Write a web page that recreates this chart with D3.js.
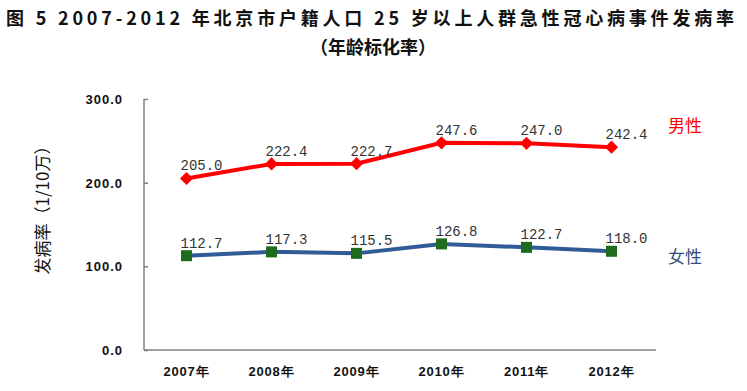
<!DOCTYPE html>
<html>
<head>
<meta charset="utf-8">
<script src="https://cdn.jsdelivr.net/npm/d3@7"></script>
<style>
  body { margin: 0; background: #fff; }
  svg { display: block; }
</style>
</head>
<body>
<div></div>
<script>
const years = ["2007年", "2008年", "2009年", "2010年", "2011年", "2012年"];
const male = [205.0, 222.4, 222.7, 247.6, 247.0, 242.4];
const female = [112.7, 117.3, 115.5, 126.8, 122.7, 118.0];
const yTicks = [0, 100, 200, 300];
const titleLines = ["图 5 2007-2012 年北京市户籍人口 25 岁以上人群急性冠心病事件发病率", "（年龄标化率）"];
const yTitle = "发病率（1/10万）";

const svg = d3.select("div").append("svg")
  .attr("width", 747)
  .attr("height", 391);

const x = d3.scalePoint().domain(years).range([144, 654]).padding(0.5);
const y = d3.scaleLinear().domain([0, 300]).range([350, 99]);

// title
svg.append("text")
  .attr("x", 6).attr("y", 25)
  .attr("textLength", 728).attr("lengthAdjust", "spacing")
  .style("font-family", "'Noto Sans CJK SC'")
  .style("font-weight", 600)
  .style("font-size", "18px")
  .attr("fill", "#111")
  .text(titleLines[0]);
svg.append("text")
  .attr("x", 373).attr("y", 54)
  .attr("text-anchor", "middle")
  .style("font-family", "'Noto Sans CJK SC'")
  .style("font-weight", 600)
  .style("font-size", "18px")
  .attr("fill", "#111")
  .text(titleLines[1]);

// axes
const yAxis = svg.append("g")
  .attr("transform", "translate(144,0)")
  .call(d3.axisRight(y).tickValues(yTicks).tickSize(4).tickFormat(""));
yAxis.select(".domain").attr("stroke", "#808080").attr("stroke-width", 1.5).attr("d", "M0," + y(300) + "V" + y(0));
yAxis.selectAll(".tick line").attr("stroke", "#808080").attr("stroke-width", 1.5);

svg.append("g").selectAll("text")
  .data(yTicks)
  .join("text")
  .attr("x", 123).attr("y", d => y(d) + 5)
  .attr("text-anchor", "end")
  .style("font-family", "'Liberation Sans', Arial")
  .style("font-weight", "bold")
  .style("font-size", "13px")
  .style("letter-spacing", "1px")
  .attr("fill", "#111")
  .text(d => d3.format(".1f")(d));

svg.append("line")
  .attr("x1", 144).attr("x2", 656)
  .attr("y1", y(0)).attr("y2", y(0))
  .attr("stroke", "#808080").attr("stroke-width", 1.5);

svg.append("g").selectAll("text")
  .data(years)
  .join("text")
  .attr("x", d => x(d)).attr("y", 376)
  .attr("text-anchor", "middle")
  .style("font-family", "'Liberation Sans', Arial")
  .style("font-weight", "bold")
  .style("font-size", "13px")
  .style("letter-spacing", "0.8px")
  .attr("fill", "#111")
  .text(d => d);

svg.append("text")
  .attr("transform", "translate(49,206) rotate(-90)")
  .attr("text-anchor", "middle")
  .style("font-family", "'Noto Sans CJK SC'")
  .style("font-size", "17px")
  .attr("fill", "#111")
  .text(yTitle);

// series
const line = d3.line().x((d, i) => x(years[i])).y(d => y(d));

svg.append("path").datum(male)
  .attr("d", line).attr("fill", "none")
  .attr("stroke", "#ff0000").attr("stroke-width", 4);
svg.append("path").datum(female)
  .attr("d", line).attr("fill", "none")
  .attr("stroke", "#2f5b96").attr("stroke-width", 4);

svg.append("g").selectAll("path")
  .data(male)
  .join("path")
  .attr("transform", (d, i) => "translate(" + x(years[i]) + "," + y(d) + ")")
  .attr("d", d3.symbol(d3.symbolDiamond2, 110))
  .attr("fill", "#ff0000");

svg.append("g").selectAll("rect")
  .data(female)
  .join("rect")
  .attr("x", (d, i) => x(years[i]) - 5.5)
  .attr("y", d => y(d) - 5.5)
  .attr("width", 11).attr("height", 11)
  .attr("fill", "#1e6b1e");

// data labels
[male, female].forEach(s => {
  svg.append("g").selectAll("text")
    .data(s)
    .join("text")
    .attr("x", (d, i) => x(years[i]) + 15)
    .attr("y", d => y(d) - 8)
    .attr("text-anchor", "middle")
    .style("font-family", "'Liberation Mono', monospace")
    .style("font-size", "14px")
    .attr("fill", "#333")
    .text(d => d.toFixed(1));
});

// legend labels
svg.append("text")
  .attr("x", 668).attr("y", 132)
  .style("font-family", "'Noto Sans CJK SC'")
  .style("font-size", "17px")
  .attr("fill", "#ff0000")
  .text("男性");
svg.append("text")
  .attr("x", 668).attr("y", 263)
  .style("font-family", "'Noto Sans CJK SC'")
  .style("font-size", "17px")
  .attr("fill", "#2f4d7a")
  .text("女性");
</script>
</body>
</html>
